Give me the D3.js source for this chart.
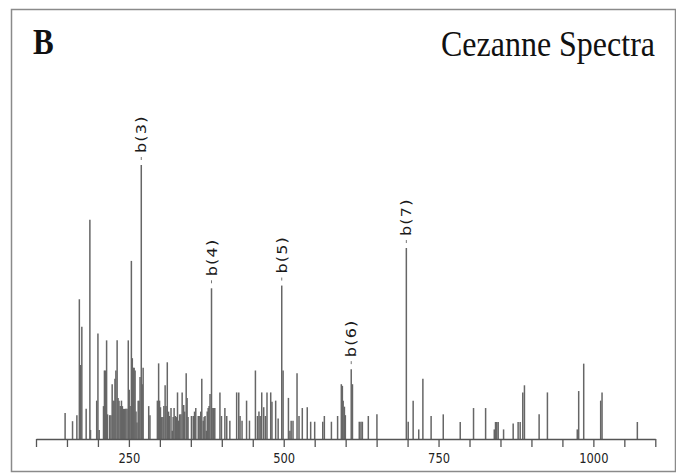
<!DOCTYPE html>
<html>
<head>
<meta charset="utf-8">
<script src="https://cdnjs.cloudflare.com/ajax/libs/d3/7.8.5/d3.min.js"></script>
<style>
  body { margin: 0; background: #fff; }
</style>
</head>
<body>
<div id="chart-area"></div>
<script>
//============================DATA============================
var panelLetter = "B";
var chartTitle = "Cezanne Spectra";

// peak m/z and relative intensity (b(3) = 100)
var peakMz = [
  147, 159, 166, 170, 171, 172, 174, 181, 187, 188,
  198, 200, 202, 209, 210.5, 212, 214, 215.5, 219, 221,
  223, 224.5, 226, 227.5, 229, 231, 232.5, 234, 236, 238,
  239.5, 241, 243, 245, 247, 249, 250.5, 252, 254, 255.5,
  257, 258.5, 260, 261.5, 263, 265, 266.5, 268, 270, 271.5,
  273, 282, 284, 296, 298, 299.5, 301, 303, 305, 306.5,
  308.5, 310, 312, 314, 315.5, 318, 320, 321.5, 323, 325,
  327, 328.5, 330.5, 332, 334, 336, 338.5, 340, 342.5, 344,
  345.5, 351, 354, 356, 358, 362, 364.5, 366, 367.7, 370,
  371.5, 373, 375, 376.5, 378, 379.5, 381, 383.4, 385.5, 387,
  388.7, 397, 399.5, 405, 408, 413, 424, 427.4, 429.5, 432.7,
  440, 444.7, 454.3, 457.6, 460, 462, 464.5, 467.7, 470.5, 473,
  479, 481, 487, 491, 496.8, 499, 507.6, 510, 512, 515,
  521.5, 524.7, 530, 538, 543.5, 550, 563, 565.6, 577, 587,
  593, 594.7, 596, 598, 599.5, 609, 611, 622, 624.7, 627,
  636.6, 650.5, 698, 701, 709, 718, 724.7, 738, 757.6, 785,
  806.5, 826, 840, 842, 844, 846.3, 855, 870.5, 878.5, 881.8,
  886, 888.7, 912.4, 925.8, 974, 976.3, 984.4, 1011.8, 1014, 1071
];
var peakInt = [
  9.5, 6.5, 8.7, 51, 27, 27, 41, 11, 80, 3.3,
  14, 38.5, 3.3, 12, 25, 25, 36, 9, 8.7, 8.7,
  20, 14, 14, 22, 25, 36, 15, 14, 12, 14,
  12, 11, 11, 11, 11, 36, 18, 12, 65, 29.5,
  26, 26, 25, 10, 6, 14, 14, 22.6, 100, 20,
  26, 12, 8.7, 14, 27.6, 14, 11.6, 8, 8, 12,
  19.6, 12, 28, 10, 8.4, 11.3, 3, 8, 11.3, 8.4,
  8, 17, 6.7, 9, 9, 17, 12.4, 10, 24, 15,
  8, 8.4, 8.4, 10, 11.3, 8.4, 8.4, 10, 22, 6.7,
  8, 8.4, 3, 10, 11.3, 12, 16.4, 55, 11.3, 11.3,
  11.3, 17, 8.4, 11.3, 8.4, 6.7, 17, 17, 8.4, 6.7,
  14, 6.7, 25, 8.4, 10, 8.4, 17, 11.6, 8.4, 17,
  17, 13.6, 14, 7.5, 56, 25, 15, 3, 6.7, 6.7,
  24, 8.4, 11.3, 11.6, 6.3, 6.3, 6.3, 8.4, 6.3, 8.4,
  20, 19.4, 14, 11.8, 8.7, 25.5, 20, 6.3, 6.3, 6.3,
  8.4, 9, 69.7, 6.3, 14, 3.5, 22, 8.4, 9, 6.2,
  11.3, 11.3, 3.5, 6.2, 6.2, 6.2, 3.5, 5.7, 6.2, 6.2,
  17, 19.6, 9, 17, 3.5, 17.5, 27.5, 14, 17, 6.2
];

// annotated fragment ions
var ionNames = ["b(3)", "b(4)", "b(5)", "b(6)", "b(7)"];
var ionMz = [270, 383.4, 496.8, 609, 698];

// axis
var axisTicks = [100, 150, 200, 250, 300, 350, 400, 450, 500, 550, 600,
                 650, 700, 750, 800, 850, 900, 950, 1000, 1050, 1100];
var axisLabels = [250, 500, 750, 1000];

//============================CHART============================
var width = 676, height = 473;
var stretch = 1.15;   // the picture is a bit taller than wide text would be

var svg = d3.select("#chart-area")
    .append("svg")
    .attr("width", width)
    .attr("height", height);

// frame
svg.append("rect")
    .attr("x", 11.5)
    .attr("y", 9.5)
    .attr("width", 664)
    .attr("height", 462)
    .attr("fill", "none")
    .attr("stroke", "#8a8a8a")
    .attr("stroke-width", 1.5);

svg.append("text")
    .attr("transform", "translate(33, 54) scale(1," + stretch + ")")
    .attr("font-family", "'Liberation Serif', 'Times New Roman', serif")
    .attr("font-weight", "bold")
    .attr("font-size", "31px")
    .attr("fill", "#111")
    .text(panelLetter);

svg.append("text")
    .attr("transform", "translate(655, 56) scale(1," + stretch + ")")
    .attr("text-anchor", "end")
    .attr("font-family", "'Liberation Serif', 'Times New Roman', serif")
    .attr("font-size", "32px")
    .attr("fill", "#111")
    .text(chartTitle);

var x = d3.scaleLinear()
    .domain([100, 1100])
    .range([36, 655.3]);

var y = d3.scaleLinear()
    .domain([0, 100])
    .range([439, 165]);

var peaks = peakMz.map(function(m, i){ return { mz: m, val: peakInt[i] }; });

// peaks
svg.append("g")
    .selectAll("line")
    .data(peaks)
    .enter()
    .append("line")
    .attr("x1", function(d){ return x(d.mz); })
    .attr("x2", function(d){ return x(d.mz); })
    .attr("y1", y(0))
    .attr("y2", function(d){ return y(d.val); })
    .attr("stroke", "#666")
    .attr("stroke-width", 1.5);

// x axis
var xAxisCall = d3.axisBottom(x)
    .tickValues(axisTicks)
    .tickSize(8)
    .tickSizeOuter(0)
    .tickPadding(6)
    .tickFormat(function(d){ return axisLabels.indexOf(d) >= 0 ? d : ""; });

var xAxis = svg.append("g")
    .attr("transform", "translate(0, " + y(0) + ")")
    .call(xAxisCall);

xAxis.select(".domain").attr("stroke", "#555").attr("stroke-width", 1.5);
xAxis.selectAll(".tick line").attr("stroke", "#555").attr("stroke-width", 1.3);
xAxis.selectAll("text")
    .attr("y", 12.5)
    .attr("transform", "scale(1," + stretch + ")")
    .attr("font-family", "'DejaVu Sans', Verdana, sans-serif")
    .attr("font-size", "11.5px")
    .attr("fill", "#222");

// ion labels
var ions = ionNames.map(function(n, i){
    var k = peakMz.indexOf(ionMz[i]);
    return { name: n, mz: ionMz[i], val: peakInt[k] };
});

var ionG = svg.append("g")
    .selectAll("g")
    .data(ions)
    .enter()
    .append("g")
    .attr("transform", function(d){ return "translate(" + x(d.mz) + ", " + y(d.val) + ")"; });

ionG.append("line")
    .attr("x1", 0).attr("x2", 0)
    .attr("y1", -8).attr("y2", -5)
    .attr("stroke", "#777")
    .attr("stroke-width", 1);

ionG.append("text")
    .attr("transform", "translate(0, -12) scale(1," + stretch + ") rotate(-90)")
    .attr("dy", "0.36em")
    .attr("font-family", "'DejaVu Sans', Verdana, sans-serif")
    .attr("font-size", "14px")
    .attr("letter-spacing", "1px")
    .attr("fill", "#1a1a1a")
    .text(function(d){ return d.name; });
</script>
</body>
</html>
